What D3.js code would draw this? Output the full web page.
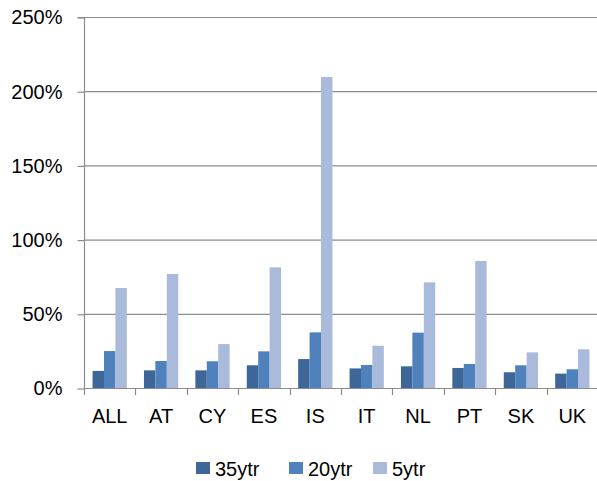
<!DOCTYPE html>
<html><head><meta charset="utf-8">
<script src="https://cdn.jsdelivr.net/npm/d3@7"></script>
<style>body{margin:0;background:#fff}svg{display:block}text{font-family:"Liberation Sans",Arial,sans-serif;fill:#000}</style>
</head><body>
<svg id="c" width="597" height="481"></svg>
<script>
const categories = ["ALL","AT","CY","ES","IS","IT","NL","PT","SK","UK"];
const seriesNames = ["35ytr","20ytr","5ytr"];
const s35 = [11.5, 11.9, 11.9, 15.3, 19.5, 13.2, 14.6, 13.5, 10.6, 9.7];
const s20 = [24.9, 18.2, 18.0, 24.7, 37.5, 15.5, 37.3, 16.2, 15.3, 12.6];
const s5  = [67.4, 76.8, 29.6, 81.3, 209.6, 28.5, 71.2, 85.6, 24.0, 26.1];
const yTicks = [0, 50, 100, 150, 200, 250];
const colors = ["#3D6699", "#4F81BD", "#AABADA"];

const svg = d3.select("#c");
const L = 84, R = 598, T = 17, B = 388;
const x = d3.scaleBand().domain(categories).range([L, R]).paddingInner(0).paddingOuter(0);
const y = d3.scaleLinear().domain([0, 250]).range([B, T]);
const groupW = x.bandwidth() * 3 / 4.5;
const xs = d3.scaleBand().domain(seriesNames).range([0, groupW]);
const series = [s35, s20, s5];

// gridlines
svg.append("g").selectAll("line").data(yTicks.filter(d => d > 0)).join("line")
  .attr("x1", L).attr("x2", R).attr("y1", d => y(d) + 0.5).attr("y2", d => y(d) + 0.5)
  .attr("stroke", "#8c8c8c").attr("stroke-width", 1.2);

// bars
const g = svg.append("g");
series.forEach((vals, si) => {
  g.append("g").selectAll("rect").data(vals).join("rect")
    .attr("x", (d, i) => x(categories[i]) + (x.bandwidth() - groupW) / 2 + xs(seriesNames[si]))
    .attr("y", d => y(d))
    .attr("width", xs.bandwidth())
    .attr("height", d => B - y(d))
    .attr("fill", colors[si]);
});

// y axis
const yAxis = d3.axisLeft(y).tickValues(yTicks).tickFormat(d => d + "%").tickSize(7).tickPadding(15);
const ya = svg.append("g").attr("transform", `translate(${L + 0.5},0.5)`).call(yAxis);
ya.select(".domain").attr("stroke", "#8c8c8c").attr("stroke-width", 1.2).attr("d", `M-7,${T}H0V${B}`);
ya.selectAll(".tick line").attr("stroke", "#8c8c8c").attr("stroke-width", 1.2);
ya.selectAll(".tick text").attr("font-size", 20).attr("font-family", "Liberation Sans, Arial, sans-serif").attr("fill", "#000");

// x axis
const xa = svg.append("g").attr("transform", `translate(0,${B + 0.5})`).call(d3.axisBottom(x).tickSize(0).tickPadding(20));
xa.select(".domain").attr("stroke", "#8c8c8c").attr("stroke-width", 1.2).attr("d", `M${L},0H${R}`);
xa.selectAll(".tick text").attr("font-size", 20).attr("font-family", "Liberation Sans, Arial, sans-serif").attr("fill", "#000");
svg.append("g").selectAll("line").data(categories.map(c => x(c)).concat([R])).join("line")
  .attr("x1", d => Math.round(d) + 0.5).attr("x2", d => Math.round(d) + 0.5)
  .attr("y1", B).attr("y2", B + 7).attr("stroke", "#8c8c8c").attr("stroke-width", 1.2);

// legend
const legX = [196, 289, 373];
const leg = svg.append("g");
seriesNames.forEach((n, i) => {
  leg.append("rect").attr("x", legX[i]).attr("y", 462).attr("width", 14).attr("height", 12).attr("fill", colors[i]);
  leg.append("text").attr("x", legX[i] + 19).attr("y", 475.5).attr("font-size", 20).text(n);
});
</script>
</body></html>
